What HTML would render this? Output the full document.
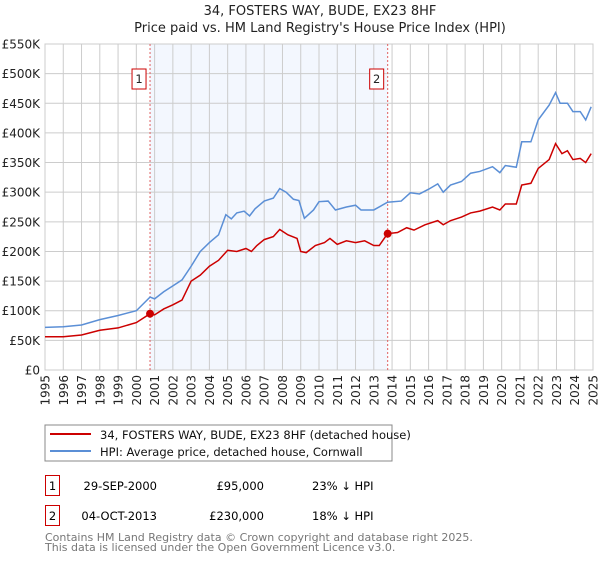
<!DOCTYPE html>
<html><head><meta charset="utf-8"><style>
body{margin:0;background:#fff;}
svg text{font-family:"DejaVu Sans","Liberation Sans",sans-serif;}
</style></head><body>
<svg id="c" width="600" height="560" xmlns="http://www.w3.org/2000/svg">
<text x="320" y="15" text-anchor="middle" font-size="13" fill="#222">34, FOSTERS WAY, BUDE, EX23 8HF</text>
<text x="320" y="32" text-anchor="middle" font-size="13" fill="#222">Price paid vs. HM Land Registry's House Price Index (HPI)</text>
<g id="plot"></g>
<rect x="45" y="425" width="347" height="36" fill="#fff" stroke="#888"/>
<line x1="50" y1="434" x2="91" y2="434" stroke="#cc0000" stroke-width="2"/>
<text x="100" y="439" font-size="11.5" fill="#111">34, FOSTERS WAY, BUDE, EX23 8HF (detached house)</text>
<line x1="50" y1="451" x2="91" y2="451" stroke="#5b8fd6" stroke-width="2"/>
<text x="100" y="456" font-size="11.5" fill="#111">HPI: Average price, detached house, Cornwall</text>
<g>
<rect x="45.5" y="475.5" width="14" height="20" fill="#fff" stroke="#cc0000"/>
<text x="52.5" y="490" text-anchor="middle" font-size="11.5">1</text>
<text x="157" y="490" text-anchor="end" font-size="11.5">29-SEP-2000</text>
<text x="264" y="490" text-anchor="end" font-size="11.5">£95,000</text>
<text x="312" y="490" font-size="11.5">23% ↓ HPI</text>
</g>
<g>
<rect x="45.5" y="505.5" width="14" height="20" fill="#fff" stroke="#cc0000"/>
<text x="52.5" y="520" text-anchor="middle" font-size="11.5">2</text>
<text x="157" y="520" text-anchor="end" font-size="11.5">04-OCT-2013</text>
<text x="264" y="520" text-anchor="end" font-size="11.5">£230,000</text>
<text x="312" y="520" font-size="11.5">18% ↓ HPI</text>
</g>
<text x="45" y="541" font-size="11" fill="#777">Contains HM Land Registry data © Crown copyright and database right 2025.</text>
<text x="45" y="551" font-size="11" fill="#777">This data is licensed under the Open Government Licence v3.0.</text>
</svg>
<script>
const years=[1995,1996,1997,1998,1999,2000,2001,2002,2003,2004,2005,2006,2007,2008,2009,2010,2011,2012,2013,2014,2015,2016,2017,2018,2019,2020,2021,2022,2023,2024,2025];
const yTicks=[0,50,100,150,200,250,300,350,400,450,500,550];
const hpiT=[1995,1996,1997,1998,1999,2000,2000.75,2001,2001.5,2002,2002.5,2003,2003.5,2004,2004.5,2004.9,2005.2,2005.5,2005.9,2006.2,2006.5,2007,2007.5,2007.85,2008.2,2008.6,2008.9,2009.2,2009.7,2010,2010.5,2010.9,2011.5,2012,2012.3,2013,2013.75,2014.5,2015,2015.5,2016,2016.5,2016.8,2017.2,2017.8,2018.3,2018.8,2019.5,2019.9,2020.2,2020.8,2021.1,2021.6,2022,2022.6,2022.95,2023.2,2023.6,2023.9,2024.3,2024.6,2024.9];
const hpiV=[72,73,76,85,92,100,123,120,132,142,152,175,200,215,228,262,255,265,268,260,272,285,290,306,300,288,286,256,270,284,285,270,275,278,270,270,283,285,299,297,305,314,300,312,318,332,335,343,333,345,342,385,385,422,447,468,450,450,436,436,422,444];
const ppT=[1995,1996,1997,1998,1999,2000,2000.75,2001,2001.5,2002,2002.5,2003,2003.5,2004,2004.5,2005,2005.5,2006,2006.3,2006.6,2007,2007.5,2007.85,2008.3,2008.8,2009,2009.3,2009.8,2010.3,2010.6,2011,2011.5,2012,2012.5,2013,2013.3,2013.75,2014.3,2014.8,2015.2,2015.8,2016.5,2016.8,2017.2,2017.8,2018.3,2018.8,2019.5,2019.9,2020.2,2020.8,2021.1,2021.6,2022,2022.6,2022.95,2023.3,2023.6,2023.9,2024.3,2024.6,2024.9];
const ppV=[56,56,59,67,71,80,95,93,103,110,118,150,160,175,185,202,200,205,200,210,220,225,237,228,222,200,198,210,215,222,212,218,215,218,210,210,230,232,240,236,245,252,245,252,258,265,268,275,270,280,280,312,315,340,355,382,365,370,355,357,350,365];
const saleT=[2000.75,2013.76];
const saleV=[95,230];
const saleLabels=["1","2"];
const X0=45,X1=593,Y0=370,Y1=44;
const xs=t=>X0+(t-1995)/30*(X1-X0);
const ys=v=>Y0-v/550*(Y0-Y1);
const g=document.getElementById('plot');
const NS='http://www.w3.org/2000/svg';
function mk(tag,attrs,parent){const e=document.createElementNS(NS,tag);for(const k in attrs)e.setAttribute(k,attrs[k]);(parent||g).appendChild(e);return e;}
const bg=mk('rect',{x:xs(saleT[0]),y:Y1,width:xs(saleT[1])-xs(saleT[0]),height:Y0-Y1,fill:'#eef3fd',opacity:0.7});


yTicks.forEach(v=>{
 const l=mk('line',{x1:X0,x2:X1,y1:ys(v),y2:ys(v),stroke:'#cccccc','stroke-width':1});
 
 
 const t=mk('text',{x:40,y:ys(v)+4.5,'text-anchor':'end','font-size':12,fill:'#222'});
 t.textContent=v===0?'£0':'£'+v+'K';
 
 
});
years.forEach(yr=>{
 const l=mk('line',{x1:xs(yr),x2:xs(yr),y1:Y1,y2:Y0,stroke:'#cccccc','stroke-width':1});
 
 
 const t=mk('text',{x:0,y:0,'text-anchor':'end','font-size':12,fill:'#222',transform:`translate(${xs(yr)+4.5},375) rotate(-90)`});
 t.textContent=yr;
 
 
});
const frame=mk('rect',{x:X0,y:Y1,width:X1-X0,height:Y0-Y1,fill:'none',stroke:'#cccccc'});


saleT.forEach((t,i)=>{
 const l=mk('line',{x1:xs(t),x2:xs(t),y1:Y1,y2:Y0,stroke:'#e06060','stroke-width':1,'stroke-dasharray':'2,2'});
 
 
 const r=mk('rect',{x:xs(t)-18,y:69,width:14,height:20,fill:'#fff',stroke:'#cc0000'});
 
 
 const tx=mk('text',{x:xs(t)-11,y:83,'text-anchor':'middle','font-size':11.5,fill:'#222'});
 tx.textContent=saleLabels[i];
 
 
});
const hp=mk('polyline',{points:hpiT.map((t,i)=>xs(t)+','+ys(hpiV[i])).join(' '),fill:'none',stroke:'#5b8fd6','stroke-width':1.5});


const pp=mk('polyline',{points:ppT.map((t,i)=>xs(t)+','+ys(ppV[i])).join(' '),fill:'none',stroke:'#cc0000','stroke-width':1.5});


saleT.forEach((t,i)=>{
 const c=mk('circle',{cx:xs(t),cy:ys(saleV[i]),r:4,fill:'#cc0000'});
 
 
});
</script>
</body></html>
